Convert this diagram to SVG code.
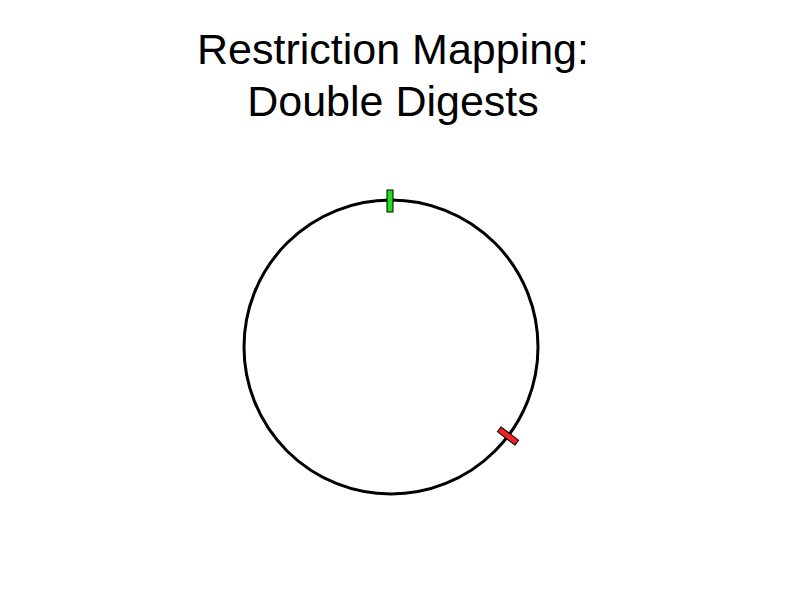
<svg xmlns="http://www.w3.org/2000/svg" width="786" height="589" viewBox="0 0 786 589">
<style>
.title{font-family:"Liberation Sans",Arial,sans-serif;font-size:43px;fill:#000;text-anchor:middle}
.mark{stroke:#000;stroke-width:1}
</style>
<rect width="786" height="589" fill="#fff"/>
<text class="title" x="393" y="64">Restriction Mapping:</text>
<text class="title" x="393" y="116">Double Digests</text>
<g id="plasmid">
<circle cx="391" cy="347" r="147" fill="none" stroke="#000" stroke-width="3"/>
</g>
<g id="site-green">
<rect class="mark" x="387" y="190" width="6" height="22" fill="#22dd22"/>
</g>
<g id="site-red">
<rect class="mark" x="-3" y="-11" width="6" height="22" fill="#ee2222" transform="translate(508,436) rotate(-53)"/>
</g>
</svg>
